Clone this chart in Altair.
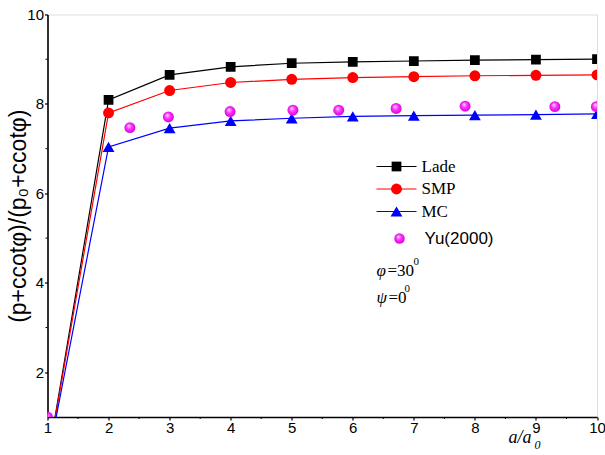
import altair as alt
import pandas as pd

# a/a0 values at which the three yield criteria were evaluated
ratio = [1, 2, 3, 4, 5, 6, 7, 8, 9, 10]
lade = [0.0, 8.09, 8.65, 8.83, 8.91, 8.94, 8.96, 8.98, 8.99, 9.00]
smp = [0.0, 7.80, 8.30, 8.48, 8.55, 8.59, 8.61, 8.63, 8.64, 8.65]
mc = [0.0, 7.04, 7.46, 7.62, 7.68, 7.72, 7.74, 7.75, 7.76, 7.78]

# Yu (2000) reference solution
yu_ratio = [1.00, 2.35, 2.98, 3.99, 5.02, 5.77, 6.71, 7.84, 9.31, 9.99]
yu_value = [1.00, 7.47, 7.71, 7.83, 7.86, 7.86, 7.90, 7.95, 7.94, 7.94]

series_names = ["Lade", "SMP", "MC"]
series_colors = ["#000000", "#ff0000", "#0000ff"]
series_shapes = ["square", "circle", "triangle-up"]
series_sizes = [95, 120, 140]

x_ticks = [1, 2, 3, 4, 5, 6, 7, 8, 9, 10]
y_ticks = [2, 4, 6, 8, 10]
x_minor = [1.5, 2.5, 3.5, 4.5, 5.5, 6.5, 7.5, 8.5, 9.5]
y_minor = [3, 5, 7, 9]

W, H = 549.5, 402.5
SANS = "Liberation Sans"
SERIF = "Liberation Serif"

x_scale = alt.Scale(domain=[1, 10], nice=False, zero=False)
y_scale = alt.Scale(domain=[1, 10], nice=False, zero=False)

rows = []
for name, vals in zip(series_names, [lade, smp, mc]):
    for r, v in zip(ratio, vals):
        rows.append({"ratio": r, "value": v, "model": name})
df = pd.DataFrame(rows)
yu_df = pd.DataFrame({"ratio": yu_ratio, "value": yu_value})

color_scale = alt.Scale(domain=series_names, range=series_colors)

x_enc = alt.X(
    "ratio:Q", scale=x_scale,
    axis=alt.Axis(values=x_ticks, format="d", title=None, grid=False, domainColor="black",
                  domainWidth=1.6, tickColor="black", tickSize=3, tickWidth=1.2,
                  labelFont=SANS, labelFontSize=15, labelColor="black",
                  labelPadding=0, labelFlush=False),
)
y_enc = alt.Y(
    "value:Q", scale=y_scale,
    axis=alt.Axis(values=y_ticks, format="d", title="(p+ccotφ)/(p₀+ccotφ)", grid=False,
                  domainColor="black", domainWidth=1.6, tickColor="black",
                  tickSize=3, tickWidth=1.2, labelFont=SANS, labelFontSize=15,
                  labelColor="black", labelPadding=1, labelFlush=False,
                  titleFont=SANS, titleFontSize=23, titleFontWeight="normal",
                  titleColor="black", titleX=-29, titleY=H / 2,
                  titleBaseline="middle", titleAngle=270),
)

lines = alt.Chart(df).mark_line(strokeWidth=1.2, clip=True).encode(
    x=x_enc, y=y_enc,
    color=alt.Color("model:N", scale=color_scale, legend=None),
    detail="model:N",
)

point_layers = []
for name, shape, size, col in zip(series_names, series_shapes, series_sizes, series_colors):
    point_layers.append(
        alt.Chart(df).transform_filter(alt.datum.model == name)
        .mark_point(shape=shape, size=size, filled=True, fill=col, opacity=1, clip=True)
        .encode(x=alt.X("ratio:Q", scale=x_scale), y=alt.Y("value:Q", scale=y_scale))
    )

ball = alt.Gradient(
    gradient="radial",
    stops=[alt.GradientStop(color="#ffe6ff", offset=0),
           alt.GradientStop(color="#ff33ff", offset=0.45),
           alt.GradientStop(color="#d000d0", offset=1)],
    x1=0.38, y1=0.32, r1=0, x2=0.5, y2=0.5, r2=0.55,
)
yu_points = alt.Chart(yu_df).mark_point(
    shape="circle", size=120, filled=True, fill=ball, opacity=1, clip=True
).encode(x=alt.X("ratio:Q", scale=x_scale), y=alt.Y("value:Q", scale=y_scale))

# minor ticks on both axes
xm = alt.Chart(pd.DataFrame({"t": x_minor})).mark_rule(color="black", strokeWidth=1).encode(
    x=alt.X("t:Q", scale=x_scale), y=alt.value(H), y2=alt.value(H + 2))
ym = alt.Chart(pd.DataFrame({"t": y_minor})).mark_rule(color="black", strokeWidth=1).encode(
    y=alt.Y("t:Q", scale=y_scale), x=alt.value(-2), x2=alt.value(0))

# legend box
leg_top, leg_step = 152, 22.5
leg_df = pd.DataFrame({
    "model": series_names,
    "ly": [leg_top + i * leg_step for i in range(3)],
})
leg_lines = alt.Chart(leg_df).mark_rule(strokeWidth=1.2).encode(
    x=alt.value(329), x2=alt.value(369), y=alt.Y("ly:Q", scale=None),
    color=alt.Color("model:N", scale=color_scale, legend=None))
leg_marks = []
for i, (name, shape, size, col) in enumerate(zip(series_names, series_shapes, series_sizes, series_colors)):
    leg_marks.append(
        alt.Chart(leg_df).transform_filter(alt.datum.model == name)
        .mark_point(shape=shape, size=size, filled=True, fill=col, opacity=1)
        .encode(x=alt.value(349), y=alt.Y("ly:Q", scale=None)))
leg_text = alt.Chart(leg_df).mark_text(
    align="left", baseline="middle", font=SERIF, fontSize=17, color="black"
).encode(x=alt.value(374), y=alt.Y("ly:Q", scale=None), text="model:N")

yu_leg_df = pd.DataFrame({"label": ["Yu(2000)"], "ly": [224]})
yu_leg_mark = alt.Chart(yu_leg_df).mark_point(
    shape="circle", size=110, filled=True, fill=ball, opacity=1
).encode(x=alt.value(352), y=alt.Y("ly:Q", scale=None))
yu_leg_text = alt.Chart(yu_leg_df).mark_text(
    align="left", baseline="middle", font=SANS, fontSize=17, color="black"
).encode(x=alt.value(377), y=alt.Y("ly:Q", scale=None), text="label:N")

# friction and dilation angle annotations
ann = pd.DataFrame({
    "sym": ["φ", "ψ"], "rest": ["=30", "=0"], "sup": ["0", "0"],
    "ly": [256, 283], "rx": [340, 341], "sx": [366, 357],
})
ann_sym = alt.Chart(ann).mark_text(
    align="left", baseline="middle", font=SERIF, fontSize=17, fontStyle="italic", color="black"
).encode(x=alt.value(329), y=alt.Y("ly:Q", scale=None), text="sym:N")
ann_rest = alt.Chart(ann).mark_text(
    align="left", baseline="middle", font=SERIF, fontSize=17, color="black"
).encode(x=alt.X("rx:Q", scale=None), y=alt.Y("ly:Q", scale=None), text="rest:N")
ann_sup = alt.Chart(ann).mark_text(
    align="left", baseline="middle", font=SERIF, fontSize=11, color="black", dy=-9
).encode(x=alt.X("sx:Q", scale=None), y=alt.Y("ly:Q", scale=None), text="sup:N")

# x-axis title a/a0
xt = pd.DataFrame({"main": ["a/a"], "sub": ["0"]})
xtitle = alt.Chart(xt).mark_text(
    align="left", baseline="alphabetic", font=SERIF, fontSize=18, fontStyle="italic", color="black"
).encode(x=alt.value(461), y=alt.value(H + 26), text="main:N")
xtitle_sub = alt.Chart(xt).mark_text(
    align="left", baseline="alphabetic", font=SERIF, fontSize=12, fontStyle="italic", color="black"
).encode(x=alt.value(487), y=alt.value(H + 32), text="sub:N")

chart = alt.layer(
    lines, *point_layers, yu_points, xm, ym,
    leg_lines, *leg_marks, leg_text, yu_leg_mark, yu_leg_text,
    ann_sym, ann_rest, ann_sup, xtitle, xtitle_sub,
).properties(
    width=W, height=H,
    autosize=alt.AutoSizeParams(type="none"),
    padding={"left": 47.5, "top": 14.5, "right": 8, "bottom": 38},
).configure_view(stroke=None).configure(background="white")

chart.save("out.html", embed_options={"renderer": "svg", "actions": False})
